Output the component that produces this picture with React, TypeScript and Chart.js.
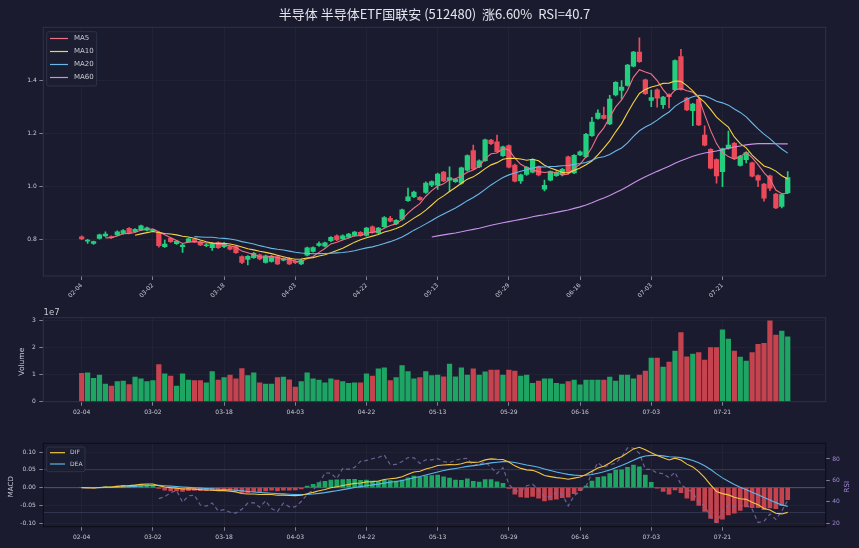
import React, { useEffect, useRef } from 'react';
import { Chart, registerables } from 'chart.js';

Chart.register(...registerables);

// ---------------- data ----------------
const TITLE = '半导体 半导体ETF国联安 (512480)  涨6.60%  RSI=40.7';
const TICK_LABELS = ['02-04', '03-02', '03-18', '04-03', '04-22', '05-13', '05-29', '06-16', '07-03', '07-21'];
const TICK_INDEX = [0, 12, 24, 36, 48, 60, 72, 84, 96, 108];

const OPEN = [
  0.811, 0.794, 0.786, 0.805, 0.814, 0.812, 0.818, 0.824, 0.843, 0.830,
  0.837, 0.836, 0.833, 0.828, 0.774, 0.805, 0.785, 0.774, 0.793, 0.802,
  0.792, 0.777, 0.770, 0.789, 0.774, 0.774, 0.774, 0.736, 0.726, 0.732,
  0.743, 0.714, 0.718, 0.736, 0.723, 0.730, 0.718, 0.709, 0.742, 0.756,
  0.778, 0.776, 0.796, 0.815, 0.803, 0.810, 0.816, 0.828, 0.816, 0.849,
  0.826, 0.849, 0.881, 0.860, 0.877, 0.947, 0.962, 0.960, 0.978, 1.006,
  1.006, 1.055, 1.025, 1.019, 1.013, 1.062, 1.136, 1.075, 1.098, 1.176,
  1.169, 1.117, 1.155, 1.082, 1.022, 1.046, 1.055, 1.075, 0.991, 1.025,
  1.042, 1.044, 1.113, 1.052, 1.120, 1.113, 1.193, 1.258, 1.269, 1.237,
  1.346, 1.363, 1.382, 1.455, 1.508, 1.403, 1.326, 1.366, 1.310, 1.347,
  1.366, 1.491, 1.334, 1.287, 1.330, 1.195, 1.141, 1.102, 1.057, 1.145,
  1.164, 1.080, 1.102, 1.090, 1.042, 1.010, 1.041, 0.972, 0.926, 0.977,
];
const HIGH = [
  0.815, 0.801, 0.795, 0.821, 0.830, 0.815, 0.833, 0.838, 0.846, 0.842,
  0.855, 0.848, 0.840, 0.830, 0.799, 0.808, 0.798, 0.783, 0.806, 0.805,
  0.795, 0.784, 0.788, 0.792, 0.789, 0.777, 0.777, 0.739, 0.740, 0.752,
  0.746, 0.742, 0.740, 0.739, 0.732, 0.733, 0.721, 0.726, 0.772, 0.773,
  0.792, 0.791, 0.812, 0.818, 0.818, 0.824, 0.832, 0.831, 0.847, 0.852,
  0.847, 0.887, 0.888, 0.876, 0.916, 0.995, 0.983, 0.963, 1.018, 1.022,
  1.051, 1.058, 1.075, 1.031, 1.074, 1.120, 1.157, 1.101, 1.180, 1.179,
  1.195, 1.153, 1.158, 1.085, 1.048, 1.076, 1.105, 1.078, 1.025, 1.060,
  1.057, 1.069, 1.116, 1.121, 1.135, 1.201, 1.262, 1.290, 1.300, 1.345,
  1.397, 1.400, 1.462, 1.511, 1.562, 1.406, 1.365, 1.369, 1.341, 1.350,
  1.479, 1.518, 1.337, 1.315, 1.333, 1.230, 1.144, 1.105, 1.146, 1.210,
  1.167, 1.118, 1.132, 1.093, 1.045, 1.013, 1.044, 0.975, 0.973, 1.057,
];
const LOW = [
  0.800, 0.786, 0.782, 0.802, 0.811, 0.805, 0.815, 0.821, 0.822, 0.827,
  0.834, 0.833, 0.830, 0.772, 0.771, 0.790, 0.782, 0.752, 0.790, 0.790,
  0.777, 0.774, 0.760, 0.767, 0.770, 0.761, 0.748, 0.710, 0.705, 0.729,
  0.724, 0.711, 0.715, 0.706, 0.720, 0.706, 0.710, 0.706, 0.739, 0.753,
  0.775, 0.773, 0.793, 0.796, 0.800, 0.807, 0.813, 0.813, 0.813, 0.825,
  0.823, 0.846, 0.867, 0.857, 0.874, 0.944, 0.959, 0.948, 0.975, 1.000,
  0.990, 1.019, 0.981, 1.016, 1.010, 1.059, 1.064, 1.072, 1.095, 1.159,
  1.129, 1.114, 1.071, 1.018, 1.012, 1.043, 1.052, 1.041, 0.984, 1.022,
  1.039, 1.041, 1.049, 1.049, 1.117, 1.110, 1.190, 1.255, 1.255, 1.234,
  1.343, 1.330, 1.379, 1.452, 1.469, 1.348, 1.302, 1.300, 1.295, 1.297,
  1.363, 1.364, 1.287, 1.230, 1.230, 1.154, 1.067, 1.013, 1.000, 1.142,
  1.104, 1.077, 1.090, 1.037, 1.000, 0.945, 0.985, 0.917, 0.920, 0.974,
];
const CLOSE = [
  0.803, 0.799, 0.793, 0.818, 0.821, 0.808, 0.830, 0.834, 0.826, 0.839,
  0.852, 0.845, 0.837, 0.777, 0.783, 0.793, 0.795, 0.780, 0.803, 0.793,
  0.780, 0.781, 0.785, 0.770, 0.786, 0.764, 0.751, 0.714, 0.737, 0.749,
  0.727, 0.739, 0.737, 0.709, 0.729, 0.709, 0.713, 0.723, 0.769, 0.770,
  0.785, 0.788, 0.809, 0.799, 0.815, 0.821, 0.829, 0.816, 0.844, 0.828,
  0.844, 0.883, 0.870, 0.873, 0.913, 0.962, 0.980, 0.951, 1.014, 1.019,
  1.048, 1.022, 1.034, 1.028, 1.071, 1.117, 1.067, 1.098, 1.177, 1.162,
  1.132, 1.150, 1.074, 1.021, 1.045, 1.073, 1.102, 1.044, 1.005, 1.057,
  1.054, 1.066, 1.052, 1.118, 1.132, 1.198, 1.244, 1.278, 1.258, 1.331,
  1.394, 1.376, 1.459, 1.508, 1.472, 1.351, 1.336, 1.334, 1.338, 1.340,
  1.476, 1.367, 1.290, 1.312, 1.233, 1.157, 1.070, 1.041, 1.143, 1.157,
  1.107, 1.115, 1.129, 1.040, 1.025, 0.957, 0.994, 0.920, 0.970, 1.034,
];
const VOLUME = [
  1.05e7, 1.07e7, 0.86e7, 0.98e7, 0.65e7, 0.58e7, 0.74e7, 0.76e7, 0.63e7, 0.91e7,
  0.84e7, 0.74e7, 0.78e7, 1.37e7, 1.03e7, 0.95e7, 0.58e7, 1.03e7, 0.80e7, 0.78e7,
  0.78e7, 0.70e7, 1.11e7, 0.80e7, 0.89e7, 0.98e7, 0.84e7, 1.22e7, 0.96e7, 1.07e7,
  0.70e7, 0.65e7, 0.65e7, 0.89e7, 0.91e7, 0.81e7, 0.54e7, 0.74e7, 1.07e7, 0.84e7,
  0.80e7, 0.70e7, 0.84e7, 0.80e7, 0.74e7, 0.68e7, 0.70e7, 0.70e7, 1.03e7, 0.95e7,
  1.21e7, 1.25e7, 0.78e7, 0.89e7, 1.33e7, 1.11e7, 0.84e7, 0.89e7, 1.11e7, 0.96e7,
  0.98e7, 0.92e7, 1.39e7, 0.92e7, 1.25e7, 0.98e7, 1.21e7, 0.98e7, 1.10e7, 1.17e7,
  1.17e7, 0.98e7, 1.17e7, 1.13e7, 0.95e7, 0.98e7, 0.68e7, 0.76e7, 0.84e7, 0.84e7,
  0.68e7, 0.65e7, 0.74e7, 0.80e7, 0.62e7, 0.80e7, 0.80e7, 0.80e7, 0.80e7, 0.91e7,
  0.76e7, 0.98e7, 0.98e7, 0.84e7, 0.98e7, 1.13e7, 1.61e7, 1.61e7, 1.28e7, 1.46e7,
  1.87e7, 2.55e7, 1.66e7, 1.76e7, 1.81e7, 1.54e7, 2.00e7, 2.00e7, 2.65e7, 2.31e7,
  1.87e7, 1.65e7, 1.50e7, 1.81e7, 2.12e7, 2.15e7, 2.98e7, 2.46e7, 2.61e7, 2.39e7,
];
const PRICE_TICKS = [0.8, 1.0, 1.2, 1.4];
const VOL_TICKS = [0, 1e7, 2e7, 3e7];
const MACD_TICKS = [-0.1, -0.05, 0, 0.05, 0.1];
const RSI_TICKS = [20, 40, 60, 80];
const RSI_LINES = [70, 30];

// ---------------- style ----------------
const BG = '#1a1b2e';
const FONT = "'DejaVu Sans', sans-serif";
const TXT = '#c9cad4';
const TICKC = '#9a9cae';
const GRID = 'rgba(255,255,255,0.045)';
const FRAME = '#2e3149';
const UP = '#22cf7e';
const DOWN = '#eb4a5a';
const UP_V = '#1ea463';
const DOWN_V = '#c4434f';
const MA_COLORS = ['#ee7185', '#f5d145', '#6ab8e8', '#c892ea'];
const DIF_C = '#f5c542';
const DEA_C = '#5fb6ea';
const RSI_C = 'rgba(120,108,165,0.85)';
const RSI_TXT = '#a48ad8';
const X_MIN = -6.47;
const X_MAX = 125.4;

// ---------------- helpers ----------------
function sma(a: number[], n: number) {
  return a.map((_, i) => {
    if (i < n - 1) return null;
    let s = 0;
    for (let k = i - n + 1; k <= i; k++) s += a[k];
    return s / n;
  });
}
function ema(a: number[], n: number) {
  const k = 2 / (n + 1);
  const out: number[] = [];
  a.forEach((v, i) => out.push(i === 0 ? v : v * k + out[i - 1] * (1 - k)));
  return out;
}
function rsi(c: number[], n: number) {
  const g = c.map((v, i) => (i === 0 ? 0 : Math.max(v - c[i - 1], 0)));
  const l = c.map((v, i) => (i === 0 ? 0 : Math.max(c[i - 1] - v, 0)));
  return c.map((_, i) => {
    if (i < n - 1) return null;
    let sg = 0, sl = 0;
    for (let k = i - n + 1; k <= i; k++) { sg += g[k]; sl += l[k]; }
    if (sl === 0) return 100;
    return 100 - 100 / (1 + sg / sl);
  });
}

function xScale(h: number, rot: number, pad: number) {
  return {
    type: 'linear',
    min: X_MIN,
    max: X_MAX,
    offset: false,
    afterBuildTicks: (s: any) => { s.ticks = TICK_INDEX.map((v) => ({ value: v })); },
    afterFit: (s: any) => { s.height = h; },
    ticks: {
      autoSkip: false,
      maxRotation: rot,
      minRotation: rot,
      padding: pad,
      color: TXT,
      font: { size: 6, family: FONT },
      callback: (v: number) => { const k = TICK_INDEX.indexOf(v); return k >= 0 ? TICK_LABELS[k] : ''; },
    },
    grid: { offset: false, color: GRID, tickColor: TICKC, tickLength: 4, lineWidth: 0.8 },
    border: { display: false },
  };
}
function yScale(w: number, min: number, max: number, ticks: number[], fmt: (v: number) => string, pos = 'left', color = TXT, gridOn = true, pad = 3) {
  return {
    type: 'linear',
    position: pos,
    min,
    max,
    afterBuildTicks: (s: any) => { s.ticks = ticks.map((v) => ({ value: v })); },
    afterFit: (s: any) => { s.width = w; },
    ticks: { color, padding: pad, font: { size: 6, family: FONT }, callback: (v: number) => fmt(v) },
    grid: { color: GRID, tickColor: TICKC, tickLength: 4, lineWidth: 0.8, drawOnChartArea: gridOn },
    border: { display: false },
  };
}
const framePlugin = (color: string) => ({
  id: 'frame',
  afterDatasetsDraw(chart: any) {
    const { ctx, chartArea: a } = chart;
    ctx.save();
    ctx.strokeStyle = color;
    ctx.lineWidth = 1;
    ctx.strokeRect(a.left, a.top, a.right - a.left, a.bottom - a.top);
    ctx.restore();
  },
});
type LegendCfg = { dx: number; dy: number; w: number; h: number; row0: number; rowH: number; l0: number; l1: number; tx: number; fs: number };
const legendPlugin = (items: { label: string; color: string }[], cfg: LegendCfg) => ({
  id: 'customLegend',
  afterDraw(chart: any) {
    const { ctx, chartArea: a } = chart;
    ctx.save();
    const x = a.left + cfg.dx;
    const y = a.top + cfg.dy;
    ctx.beginPath();
    (ctx as any).roundRect(x, y, cfg.w, cfg.h, 2);
    ctx.fillStyle = 'rgba(28,29,48,0.85)';
    ctx.fill();
    ctx.strokeStyle = '#353850';
    ctx.lineWidth = 0.8;
    ctx.stroke();
    items.forEach((it, i) => {
      const yy = y + cfg.row0 + i * cfg.rowH;
      ctx.strokeStyle = it.color;
      ctx.lineWidth = 1.2;
      ctx.beginPath();
      ctx.moveTo(a.left + cfg.l0, yy);
      ctx.lineTo(a.left + cfg.l1, yy);
      ctx.stroke();
      ctx.fillStyle = TXT;
      ctx.font = `${cfg.fs}px ${FONT}`;
      ctx.textBaseline = 'middle';
      ctx.textAlign = 'left';
      ctx.fillText(it.label, a.left + cfg.tx, yy);
    });
    ctx.restore();
  },
});
type TextItem = { t: string; x: number; y: number; rot: number; size: number; color: string; align: CanvasTextAlign };
const textPlugin = (items: TextItem[]) => ({
  id: 'texts',
  afterDraw(chart: any) {
    const ctx = chart.ctx;
    items.forEach((it) => {
      ctx.save();
      ctx.translate(it.x, it.y);
      ctx.rotate(it.rot);
      ctx.font = `${it.size}px ${FONT}`;
      ctx.fillStyle = it.color;
      ctx.textAlign = it.align;
      ctx.textBaseline = 'middle';
      ctx.fillText(it.t, 0, 0);
      ctx.restore();
    });
  },
});
const refLinesPlugin = {
  id: 'refLines',
  beforeDatasetsDraw(chart: any) {
    const { ctx, chartArea: a, scales } = chart;
    ctx.save();
    ctx.lineWidth = 0.9;
    RSI_LINES.forEach((v) => {
      const y = scales.y1.getPixelForValue(v);
      ctx.strokeStyle = 'rgba(120,140,180,0.28)';
      ctx.beginPath(); ctx.moveTo(a.left, y); ctx.lineTo(a.right, y); ctx.stroke();
    });
    const y0 = scales.y.getPixelForValue(0);
    ctx.strokeStyle = 'rgba(160,165,190,0.45)';
    ctx.beginPath(); ctx.moveTo(a.left, y0); ctx.lineTo(a.right, y0); ctx.stroke();
    ctx.restore();
  },
};

export default function App() {
  const r1 = useRef<HTMLCanvasElement>(null);
  const r2 = useRef<HTMLCanvasElement>(null);
  const r3 = useRef<HTMLCanvasElement>(null);

  useEffect(() => {
    const idx = CLOSE.map((_, i) => i);
    const up = idx.map((i) => CLOSE[i] >= OPEN[i]);
    const candleCol = up.map((u) => (u ? UP : DOWN));
    const volCol = up.map((u) => (u ? UP_V : DOWN_V));
    const mas = [5, 10, 20, 60].map((n) => sma(CLOSE, n));
    const e12 = ema(CLOSE, 12);
    const e26 = ema(CLOSE, 26);
    const dif = e12.map((v, i) => v - e26[i]);
    const dea = ema(dif, 9);
    const hist = dif.map((v, i) => 2 * (v - dea[i]));
    const rs = rsi(CLOSE, 14);

    const base = {
      responsive: false,
      animation: false,
      events: [],
      plugins: { legend: { display: false }, tooltip: { enabled: false }, title: { display: false } },
    };

    const c1 = new Chart(r1.current as HTMLCanvasElement, {
      type: 'bar',
      data: {
        datasets: [
          { type: 'bar', data: idx.map((i) => ({ x: i, y: [LOW[i], HIGH[i]] })), backgroundColor: candleCol, barThickness: 1, grouped: false, order: 5 } as any,
          { type: 'bar', data: idx.map((i) => ({ x: i, y: [OPEN[i], CLOSE[i]] })), backgroundColor: candleCol, barThickness: 4.6, grouped: false, order: 4 } as any,
          ...['MA5', 'MA10', 'MA20', 'MA60'].map((lab, k) => ({
            type: 'line', label: lab, data: idx.map((i) => ({ x: i, y: mas[k][i] })),
            borderColor: MA_COLORS[k], borderWidth: 1.1, pointRadius: 0, tension: 0, order: 3 - k,
          })),
        ],
      },
      options: {
        ...base,
        layout: { padding: { left: 0, right: 33.3, top: 27.3, bottom: 0 } },
        scales: {
          x: xScale(24, 45, 2),
          y: yScale(43.3, 0.663, 1.6015, PRICE_TICKS, (v) => v.toFixed(1), 'left', TXT, true, 2.6),
        },
      } as any,
      plugins: [
        framePlugin(FRAME),
        legendPlugin(
          ['MA5', 'MA10', 'MA20', 'MA60'].map((l, k) => ({ label: l, color: MA_COLORS[k] })),
          { dx: 3.4, dy: 4.4, w: 50, h: 54.3, row0: 6.8, rowH: 13, l0: 6.7, l1: 24.7, tx: 30.7, fs: 7 },
        ),
      ] as any,
    });

    const c2 = new Chart(r2.current as HTMLCanvasElement, {
      type: 'bar',
      data: {
        datasets: [
          { type: 'bar', data: idx.map((i) => ({ x: i, y: VOLUME[i] })), backgroundColor: volCol, barThickness: 4.6, grouped: false } as any,
        ],
      },
      options: {
        ...base,
        layout: { padding: { left: 0, right: 33.3, top: 17.7, bottom: 0 } },
        scales: {
          x: xScale(18.3, 0, 3),
          y: yScale(43.3, 0, 3.1e7, VOL_TICKS, (v) => String(Math.round(v / 1e7)), 'left', TXT, true, 3.5),
        },
      } as any,
      plugins: [
        framePlugin(FRAME),
        textPlugin([
          { t: 'Volume', x: 21.7, y: 61.7, rot: -Math.PI / 2, size: 7.5, color: TXT, align: 'center' },
          { t: '1e7', x: 43.5, y: 12.5, rot: 0, size: 8.5, color: TXT, align: 'left' },
        ]),
      ] as any,
    });

    const c3 = new Chart(r3.current as HTMLCanvasElement, {
      type: 'bar',
      data: {
        datasets: [
          { type: 'bar', data: idx.map((i) => ({ x: i, y: hist[i] })), backgroundColor: hist.map((h) => (h >= 0 ? UP_V : DOWN_V)), barThickness: 4, grouped: false, yAxisID: 'y', order: 5 } as any,
          { type: 'line', data: idx.map((i) => ({ x: i, y: rs[i] })), borderColor: RSI_C, borderWidth: 1.2, borderDash: [4, 3], pointRadius: 0, yAxisID: 'y1', order: 4 },
          { type: 'line', data: idx.map((i) => ({ x: i, y: dea[i] })), borderColor: DEA_C, borderWidth: 1.1, pointRadius: 0, yAxisID: 'y', order: 2 },
          { type: 'line', data: idx.map((i) => ({ x: i, y: dif[i] })), borderColor: DIF_C, borderWidth: 1.1, pointRadius: 0, yAxisID: 'y', order: 1 },
        ],
      },
      options: {
        ...base,
        layout: { padding: { left: 0, right: 0, top: 13.3, bottom: 0 } },
        scales: {
          x: xScale(21.3, 0, 3),
          y: yScale(43.3, -0.11, 0.125, MACD_TICKS, (v) => (Math.abs(v) < 1e-9 ? '0.00' : v.toFixed(2)), 'left', TXT, true, 3.5),
          y1: yScale(33.3, 16.8, 94.6, RSI_TICKS, (v) => String(v), 'right', RSI_TXT, false, 2.5),
        },
      } as any,
      plugins: [
        refLinesPlugin,
        framePlugin('#0c0d16'),
        legendPlugin(
          [{ label: 'DIF', color: DIF_C }, { label: 'DEA', color: DEA_C }],
          { dx: 3.4, dy: 3.7, w: 38.3, h: 24.7, row0: 5.7, rowH: 11.3, l0: 6.7, l1: 21.7, tx: 26.7, fs: 6 },
        ),
        textPlugin([
          { t: 'MACD', x: 11, y: 56.7, rot: -Math.PI / 2, size: 7, color: TXT, align: 'center' },
          { t: 'RSI', x: 847, y: 56.7, rot: -Math.PI / 2, size: 7, color: RSI_TXT, align: 'center' },
        ]),
      ] as any,
    });

    return () => { c1.destroy(); c2.destroy(); c3.destroy(); };
  }, []);

  return (
    <div style={{ position: 'fixed', left: 0, top: 0, width: 859, height: 548, background: BG, overflow: 'hidden' }}>
      <canvas ref={r1} width={859} height={300} style={{ position: 'absolute', left: 0, top: 0, width: 859, height: 300 }} />
      <canvas ref={r2} width={859} height={120} style={{ position: 'absolute', left: 0, top: 300, width: 859, height: 120 }} />
      <canvas ref={r3} width={859} height={118} style={{ position: 'absolute', left: 0, top: 430, width: 859, height: 118 }} />
      <div
        style={{
          position: 'absolute', left: 43.3, top: 0, width: 782.4, height: 27, lineHeight: '27px',
          textAlign: 'center', color: '#e4e5ec', fontFamily: "'Noto Sans CJK SC', 'DejaVu Sans', sans-serif",
          fontSize: 13, whiteSpace: 'pre',
        }}
      >
        {TITLE}
      </div>
    </div>
  );
}
